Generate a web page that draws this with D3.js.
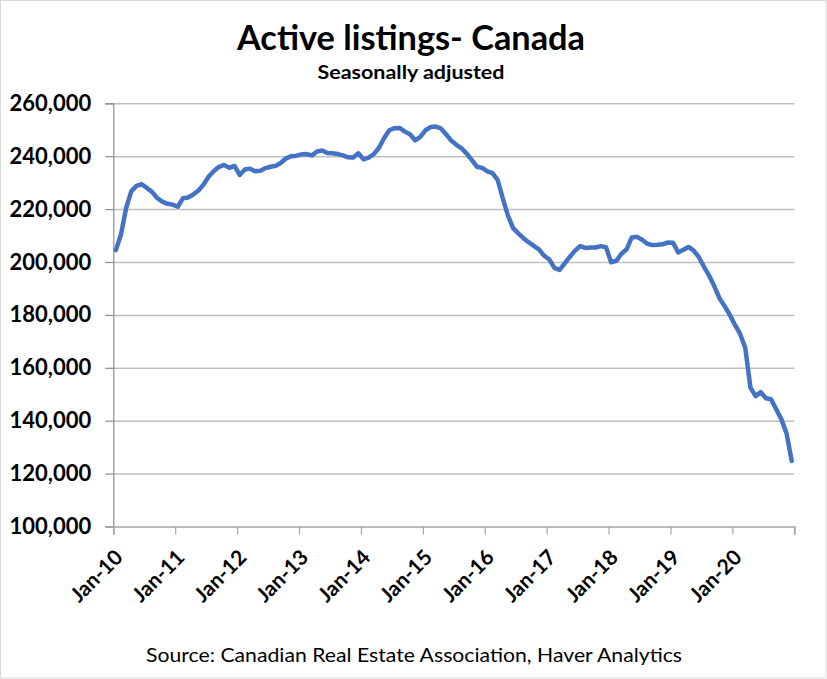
<!DOCTYPE html>
<html>
<head>
<meta charset="utf-8">
<script src="https://cdn.jsdelivr.net/npm/d3@7"></script>
<style>
  body { margin: 0; background: #fff; }
  svg { display: block; font-family: Lato, "Open Sans", sans-serif; }
</style>
</head>
<body>
<script>
// Active listings, seasonally adjusted, monthly (thousands)
const v2010 = [204.5, 210.5, 220.5, 226.8, 228.8, 229.4, 228.0, 226.5, 224.2, 222.8, 222.0, 221.7];
const v2011 = [220.9, 224.1, 224.4, 225.5, 227.0, 229.3, 232.3, 234.4, 236.0, 236.7, 235.6, 236.3];
const v2012 = [232.9, 235.0, 235.3, 234.3, 234.5, 235.5, 236.0, 236.4, 237.5, 239.2, 240.0, 240.2];
const v2013 = [240.7, 240.8, 240.3, 241.8, 242.2, 241.2, 241.1, 240.8, 240.3, 239.6, 239.5, 241.1];
const v2014 = [238.8, 239.5, 240.8, 243.2, 246.9, 249.8, 250.6, 250.7, 249.3, 248.3, 246.0, 247.3];
const v2015 = [249.8, 251.0, 251.2, 250.5, 248.3, 245.9, 244.3, 243.0, 241.0, 238.5, 236.0, 235.6];
const v2016 = [234.3, 233.6, 231.0, 224.0, 217.5, 212.8, 210.8, 209.0, 207.5, 206.1, 204.8, 202.4];
const v2017 = [201.0, 197.8, 197.0, 199.5, 202.0, 204.3, 206.0, 205.3, 205.5, 205.5, 206.0, 205.6];
const v2018 = [199.9, 200.4, 203.1, 204.8, 209.3, 209.5, 208.4, 206.9, 206.4, 206.5, 206.7, 207.4];
const v2019 = [207.3, 203.6, 204.6, 205.7, 204.3, 201.8, 198.2, 194.8, 190.8, 186.3, 183.3, 180.0];
const v2020 = [176.2, 172.8, 167.5, 152.5, 149.3, 150.8, 148.5, 148.1, 144.3, 140.5, 135.2, 124.8];

const xLabels = ["Jan-10", "Jan-11", "Jan-12", "Jan-13", "Jan-14", "Jan-15",
                 "Jan-16", "Jan-17", "Jan-18", "Jan-19", "Jan-20"];
const yTicks = [100000, 120000, 140000, 160000, 180000, 200000, 220000, 240000, 260000];

const values = [].concat(v2010, v2011, v2012, v2013, v2014, v2015,
                         v2016, v2017, v2018, v2019, v2020).map(d => d * 1000);

const W = 827, H = 679;
const plot = { left: 113.3, right: 794.3, top: 103.3, bottom: 526.5 };

const svg = d3.select("body").append("svg")
  .attr("width", W)
  .attr("height", H);

// chart border
svg.append("rect")
  .attr("x", 0.5).attr("y", 0.5)
  .attr("width", W - 1.5).attr("height", H - 1.5)
  .attr("fill", "#fff")
  .attr("stroke", "#d9d9d9");

// scales: months are categories, ticks on category boundaries
const x = d3.scaleLinear()
  .domain([0, values.length])
  .range([plot.left, plot.right]);

const y = d3.scaleLinear()
  .domain([100000, 260000])
  .range([plot.bottom, plot.top]);

// gridlines
svg.append("g")
  .attr("transform", `translate(${plot.left},0)`)
  .call(d3.axisLeft(y).tickValues(yTicks.slice(1)).tickSize(-(plot.right - plot.left)).tickFormat(""))
  .call(g => g.select(".domain").remove())
  .call(g => g.selectAll("line").attr("stroke", "#bfbfbf").attr("stroke-width", 1.5));

// y axis
svg.append("g")
  .attr("transform", `translate(${plot.left},0)`)
  .call(d3.axisLeft(y).tickValues(yTicks).tickSize(8).tickPadding(14).tickFormat(d3.format(",")))
  .call(g => g.select(".domain").attr("stroke", "#8c8c8c").attr("stroke-width", 1.2))
  .call(g => g.selectAll("line").attr("stroke", "#8c8c8c").attr("stroke-width", 1.2))
  .call(g => g.selectAll("text")
    .attr("fill", "#000")
    .style("font-size", "22px")
    .style("font-weight", "bold")
    .style("font-family", "Lato, sans-serif"));

// x axis
const xTickVals = d3.range(0, values.length + 1, 12);
svg.append("g")
  .attr("transform", `translate(0,${plot.bottom})`)
  .call(d3.axisBottom(x).tickValues(xTickVals).tickSize(8)
    .tickFormat((d, i) => xLabels[i] || ""))
  .call(g => g.select(".domain").attr("stroke", "#a6a6a6").attr("stroke-width", 1.5))
  .call(g => g.selectAll("line").attr("stroke", "#a6a6a6").attr("stroke-width", 1.2))
  .call(g => g.selectAll("text")
    .attr("fill", "#000")
    .attr("text-anchor", "end")
    .attr("y", 0)
    .attr("dy", "0.35em")
    .attr("transform", "translate(5,27) rotate(-45)")
    .style("font-size", "21px")
    .style("font-weight", "bold")
    .style("font-family", "Lato, sans-serif"));

// line
const line = d3.line()
  .x((d, i) => x(i + 0.5))
  .y(d => y(d));

svg.append("path")
  .datum(values)
  .attr("fill", "none")
  .attr("stroke", "#4472c4")
  .attr("stroke-width", 4.5)
  .attr("stroke-linejoin", "round")
  .attr("stroke-linecap", "round")
  .attr("d", line);

// titles
svg.append("text")
  .attr("x", 411).attr("y", 50)
  .attr("text-anchor", "middle")
  .attr("textLength", 348)
  .attr("lengthAdjust", "spacingAndGlyphs")
  .style("font-size", "35px")
  .style("font-weight", "bold")
  .text("Active listings- Canada");

svg.append("text")
  .attr("x", 411).attr("y", 79)
  .attr("text-anchor", "middle")
  .attr("textLength", 187)
  .attr("lengthAdjust", "spacingAndGlyphs")
  .style("font-size", "19px")
  .style("font-weight", "bold")
  .text("Seasonally adjusted");

svg.append("text")
  .attr("x", 414).attr("y", 662)
  .attr("text-anchor", "middle")
  .attr("textLength", 536)
  .attr("lengthAdjust", "spacingAndGlyphs")
  .style("font-size", "20px")
  .text("Source: Canadian Real Estate Association, Haver Analytics");
</script>
</body>
</html>
